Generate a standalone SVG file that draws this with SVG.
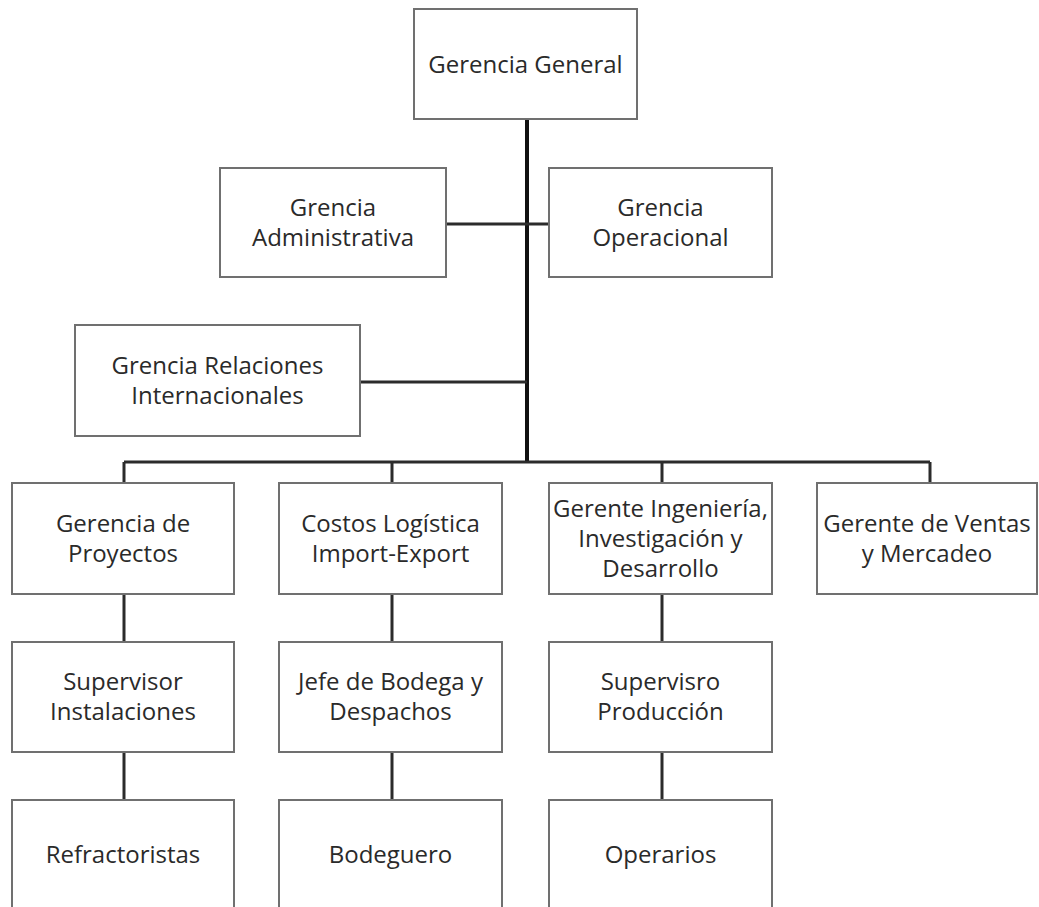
<svg xmlns="http://www.w3.org/2000/svg" width="1039" height="907" viewBox="0 0 1039 907">
<style>
.box{fill:#fff;stroke:#707070;stroke-width:2}
.t{font-family:"Open Sans","Noto Sans",sans-serif;font-size:24px;fill:#2a2a2a;text-anchor:middle}
.c{stroke:#2b2b2b;stroke-width:3;fill:none}
.trunk{stroke:#111;stroke-width:4;fill:none}
</style>
<rect width="1039" height="907" fill="#fff"/>
<g id="connectors">
<line class="trunk" x1="527" y1="119" x2="527" y2="463"/>
<line class="c" x1="446" y1="224" x2="549" y2="224"/>
<line class="c" x1="360" y1="382" x2="527" y2="382"/>
<line class="c" x1="124" y1="462" x2="930" y2="462"/>
<line class="c" x1="124" y1="462" x2="124" y2="483"/>
<line class="c" x1="392" y1="462" x2="392" y2="483"/>
<line class="c" x1="662" y1="462" x2="662" y2="483"/>
<line class="c" x1="930" y1="462" x2="930" y2="483"/>
<line class="c" x1="124" y1="594" x2="124" y2="642"/>
<line class="c" x1="392" y1="594" x2="392" y2="642"/>
<line class="c" x1="662" y1="594" x2="662" y2="642"/>
<line class="c" x1="124" y1="752" x2="124" y2="800"/>
<line class="c" x1="392" y1="752" x2="392" y2="800"/>
<line class="c" x1="662" y1="752" x2="662" y2="800"/>
</g>
<g id="gerencia-general"><rect class="box" x="414" y="9" width="223" height="110"/><text class="t" x="525.5" y="72.5">Gerencia General</text></g>
<g id="grencia-administrativa"><rect class="box" x="220" y="168" width="226" height="109"/><text class="t" x="333" y="216">Grencia</text><text class="t" x="333" y="246">Administrativa</text></g>
<g id="grencia-operacional"><rect class="box" x="549" y="168" width="223" height="109"/><text class="t" x="660.5" y="216">Grencia</text><text class="t" x="660.5" y="246">Operacional</text></g>
<g id="grencia-relaciones"><rect class="box" x="75" y="325" width="285" height="111"/><text class="t" x="217.5" y="374">Grencia Relaciones</text><text class="t" x="217.5" y="404">Internacionales</text></g>
<g id="gerencia-proyectos"><rect class="box" x="12" y="483" width="222" height="111"/><text class="t" x="123" y="532">Gerencia de</text><text class="t" x="123" y="562">Proyectos</text></g>
<g id="costos-logistica"><rect class="box" x="279" y="483" width="223" height="111"/><text class="t" x="390.5" y="532">Costos Logística</text><text class="t" x="390.5" y="562">Import-Export</text></g>
<g id="gerente-ingenieria"><rect class="box" x="549" y="483" width="223" height="111"/><text class="t" x="660.5" y="517">Gerente Ingeniería,</text><text class="t" x="660.5" y="547">Investigación y</text><text class="t" x="660.5" y="577">Desarrollo</text></g>
<g id="gerente-ventas"><rect class="box" x="817" y="483" width="220" height="111"/><text class="t" x="927" y="532">Gerente de Ventas</text><text class="t" x="927" y="562">y Mercadeo</text></g>
<g id="supervisor-instalaciones"><rect class="box" x="12" y="642" width="222" height="110"/><text class="t" x="123" y="690">Supervisor</text><text class="t" x="123" y="720">Instalaciones</text></g>
<g id="jefe-bodega"><rect class="box" x="279" y="642" width="223" height="110"/><text class="t" x="390.5" y="690">Jefe de Bodega y</text><text class="t" x="390.5" y="720">Despachos</text></g>
<g id="supervisro-produccion"><rect class="box" x="549" y="642" width="223" height="110"/><text class="t" x="660.5" y="690">Supervisro</text><text class="t" x="660.5" y="720">Producción</text></g>
<g id="refractoristas"><rect class="box" x="12" y="800" width="222" height="112"/><text class="t" x="123" y="863">Refractoristas</text></g>
<g id="bodeguero"><rect class="box" x="279" y="800" width="223" height="112"/><text class="t" x="390.5" y="863">Bodeguero</text></g>
<g id="operarios"><rect class="box" x="549" y="800" width="223" height="112"/><text class="t" x="660.5" y="863">Operarios</text></g>
</svg>
